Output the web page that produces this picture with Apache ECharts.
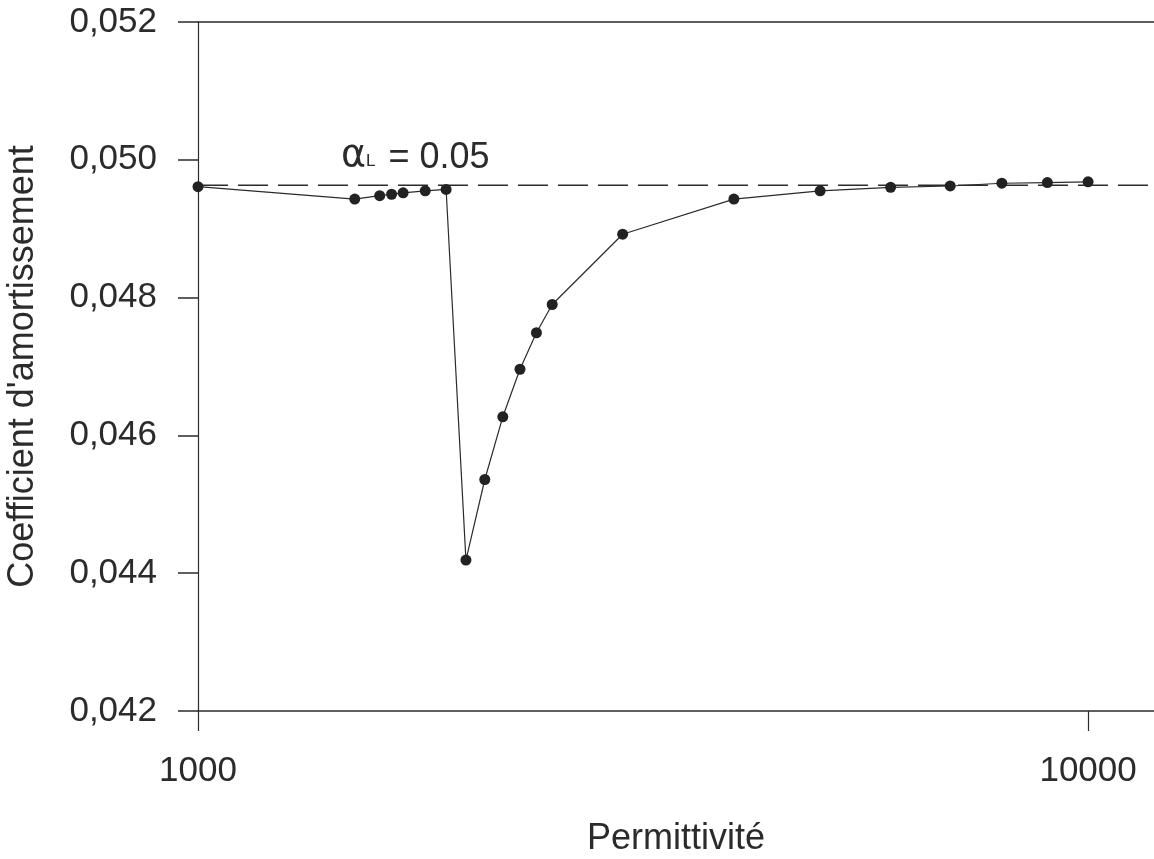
<!DOCTYPE html>
<html>
<head>
<meta charset="utf-8">
<style>
  html, body { margin: 0; padding: 0; background: #fff; overflow: hidden; }
  #chart { width: 1154px; height: 859px; }
</style>
<script src="https://cdn.jsdelivr.net/npm/echarts@6/dist/echarts.min.js"></script>
</head>
<body>
<div id="chart"></div>
<script>
// Permittivity values (log axis) and measured damping coefficients
const permittivite = [1000, 1500, 1600, 1650, 1700, 1800, 1900, 2000, 2100, 2200, 2300, 2400, 2500, 3000, 4000, 5000, 6000, 7000, 8000, 9000, 10000];
const amortissement = [0.04961, 0.04943, 0.04948, 0.04950, 0.04952, 0.04955, 0.04957, 0.04419, 0.04536, 0.04627, 0.04696, 0.04749, 0.04790, 0.04892, 0.04943, 0.04955, 0.04960, 0.04962, 0.04966, 0.04967, 0.04968];
// Reference damping level (dashed line)
const alphaL = 0.04963;
const xTicks = [1000, 10000];
const yMin = 0.042, yMax = 0.052, yStep = 0.002;
const xMin = 1000, xMax = 12170;

const ink = '#2b2b2b';
const font = 'Arial, "Liberation Sans", Helvetica, sans-serif';

const chart = echarts.init(document.getElementById('chart'));
chart.setOption({
  backgroundColor: '#fff',
  animation: false,
  grid: {
    // plot runs past the right edge of the page, so no right frame is seen
    left: 198, right: -10, top: 22, bottom: 148,
    outerBoundsMode: 'none', containLabel: false
  },
  xAxis: [{
    type: 'log', logBase: 10, min: xMin, max: xMax,
    name: 'Permittivité', nameLocation: 'middle', nameGap: 110,
    nameTextStyle: { fontSize: 36, color: ink, fontFamily: font, padding: [0, 10, 0, 0] },
    axisLine: { show: true, lineStyle: { color: ink, width: 1.5 } },
    axisTick: { show: true, length: 20, lineStyle: { color: ink, width: 1.2 }, customValues: xTicks },
    axisLabel: { fontSize: 35, color: ink, fontFamily: font, margin: 43, customValues: xTicks, formatter: v => String(v) },
    splitLine: { show: false }, minorTick: { show: false }
  }, {
    // top frame line only
    type: 'log', logBase: 10, min: xMin, max: xMax, position: 'top',
    axisLine: { show: true, lineStyle: { color: ink, width: 1.5 } },
    axisTick: { show: false }, axisLabel: { show: false }, splitLine: { show: false }
  }],
  yAxis: {
    type: 'value', min: yMin, max: yMax, interval: yStep,
    name: "Coefficient d'amortissement", nameLocation: 'middle', nameGap: 157,
    nameTextStyle: { fontSize: 36, color: ink, fontFamily: font },
    axisLine: { show: true, lineStyle: { color: ink, width: 1.2 } },
    axisTick: { show: true, length: 20, lineStyle: { color: ink, width: 1.5 } },
    axisLabel: { fontSize: 35, color: ink, fontFamily: font, margin: 41, formatter: v => v.toFixed(3).replace('.', ',') },
    splitLine: { show: false }
  },
  series: [{
    // dashed reference level across the whole axis
    type: 'line',
    data: [[xMin, alphaL], [xMax, alphaL]],
    symbol: 'none',
    lineStyle: { color: ink, width: 1.5, type: [30, 10] },
    silent: true,
    z: 2
  }, {
    type: 'line',
    data: permittivite.map((x, i) => [x, amortissement[i]]),
    symbol: 'circle', symbolSize: 11,
    itemStyle: { color: '#222' },
    lineStyle: { color: ink, width: 1.2 },
    z: 3
  }],
  graphic: [{
    type: 'text', left: 341, top: 137, z: 10,
    style: {
      text: '{g|α}{s|L}{a| = 0.05}',
      fill: ink,
      rich: {
        g: { fontSize: 38, fontFamily: '"DejaVu Sans", sans-serif', fill: ink, verticalAlign: 'bottom', padding: [0, 0, 1, 0] },
        a: { fontSize: 36, fontFamily: font, fill: ink, verticalAlign: 'bottom' },
        s: { fontSize: 17, fontFamily: font, fill: ink, verticalAlign: 'bottom', padding: [0, 3, 6, 0] }
      }
    }
  }]
});
</script>
</body>
</html>
